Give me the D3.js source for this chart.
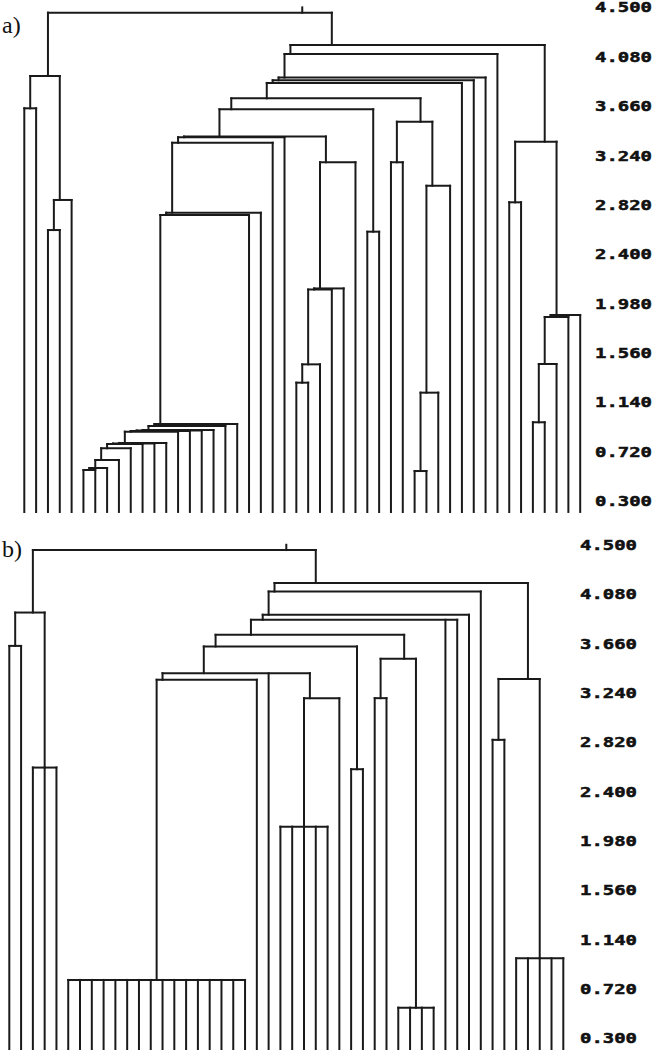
<!DOCTYPE html>
<html>
<head>
<meta charset="utf-8">
<script src="https://cdnjs.cloudflare.com/ajax/libs/d3/7.8.5/d3.min.js"></script>
<style>
body { margin: 0; background: #fff; }
.axis text { font-family: "DejaVu Sans Mono", monospace; font-weight: bold; font-size: 14px; fill: #111; stroke: #111; stroke-width: 0.5; }
.tree line { stroke: #1a1a1a; stroke-width: 2; stroke-linecap: square; }
.tag { font-family: "Liberation Serif", serif; font-size: 24px; fill: #111; }
</style>
</head>
<body>
<svg width="657" height="1050"></svg>
<script>
/* Two dendrograms (a, b) over the same 48 leaves */

// Leaves are numbered 0..47 from left to right
var leafCount = 48;

// Tick labels on the height axis
var tickValues = [4.5, 4.08, 3.66, 3.24, 2.82, 2.4, 1.98, 1.56, 1.14, 0.72, 0.3];

// Leaf lines run down to this height, the root gets a small stub above it
var leafFloor = 0.207;
var rootTick = 0.045;

// Clusters: [first leaf, last leaf, merge height]
var clustersA = [
	[0, 47, 4.456],
	[0, 4, 3.917], [0, 1, 3.642], [2, 4, 2.862], [2, 3, 2.606],
	[5, 47, 4.181],
	[41, 47, 3.358], [41, 42, 2.842], [43, 47, 1.883], [43, 46, 1.866], [43, 45, 1.466], [43, 44, 0.970],
	[5, 40, 4.104], [5, 39, 3.904], [5, 38, 3.881], [5, 37, 3.858], [5, 36, 3.727],
	[31, 36, 3.528], [31, 32, 3.183], [33, 36, 2.983], [33, 35, 1.222], [33, 34, 0.555],
	[5, 30, 3.634], [29, 30, 2.592],
	[5, 28, 3.402], [5, 22, 3.396],
	[23, 28, 3.183], [23, 27, 2.109], [23, 26, 2.100], [23, 25, 1.463], [23, 24, 1.307],
	[5, 21, 3.349], [5, 20, 2.754], [5, 19, 2.734],
	[5, 18, 0.955], [5, 17, 0.938], [5, 16, 0.904], [5, 15, 0.900], [5, 14, 0.896], [5, 13, 0.890],
	[5, 12, 0.794], [5, 11, 0.789], [5, 10, 0.785], [5, 9, 0.749], [5, 8, 0.649], [5, 7, 0.581], [5, 6, 0.564]
];

var clustersB = [
	[0, 47, 4.457],
	[0, 4, 3.925], [0, 1, 3.641], [2, 4, 2.605],
	[5, 47, 4.176],
	[41, 47, 3.360], [41, 42, 2.841], [43, 47, 0.981],
	[5, 40, 4.104], [5, 39, 3.906], [5, 38, 3.863], [5, 36, 3.735],
	[31, 36, 3.531], [31, 32, 3.196], [33, 36, 0.561],
	[5, 30, 3.636], [29, 30, 2.591],
	[5, 28, 3.409], [23, 28, 3.196], [23, 27, 2.102],
	[5, 21, 3.352], [5, 20, 0.797]
];

// Panel placement
var panels = [
	{ tag: "a)", tagY: 33, clusters: clustersA, xRange: [24.3, 580.2], yRange: [501, 7.5], axisX: 595 },
	{ tag: "b)", tagY: 557, clusters: clustersB, xRange: [9.3, 563.3], yRange: [1038.3, 545], axisX: 580 }
];

var svg = d3.select("svg");
svg.append("rect").attr("width", 657).attr("height", 1050).attr("fill", "#fff");

// Direct sub-clusters of c (single leaves fill the gaps)
function childrenOf(c, clusters) {
	var inner = clusters.filter(function (d) {
		return d[0] >= c[0] && d[1] <= c[1] && !(d[0] == c[0] && d[1] == c[1]);
	});
	var kids = [];
	var i = c[0];
	while (i <= c[1]) {
		var best = null;
		inner.forEach(function (d) {
			if (d[0] == i && (!best || d[1] > best[1])) best = d;
		});
		if (best) { kids.push(best); i = best[1] + 1; }
		else { kids.push([i, i, leafFloor]); i++; }
	}
	return kids;
}

panels.forEach(function (p) {
	var x = d3.scaleLinear().domain([0, leafCount - 1]).range(p.xRange);
	var y = d3.scaleLinear().domain([0.3, 4.5]).range(p.yRange);

	// stem position = mean of the cluster's leaves
	function cx(d) { return d3.mean(d3.range(d[0], d[1] + 1), function (i) { return x(i); }); }

	var segs = [];
	p.clusters.forEach(function (c) {
		var kids = childrenOf(c, p.clusters);
		segs.push({ x1: cx(kids[0]), x2: cx(kids[kids.length - 1]), y1: y(c[2]), y2: y(c[2]) });
		kids.forEach(function (k) {
			segs.push({ x1: cx(k), x2: cx(k), y1: y(k[2]), y2: y(c[2]) });
		});
	});
	var root = p.clusters[0];
	segs.push({ x1: cx(root), x2: cx(root), y1: y(root[2]), y2: y(root[2] + rootTick) });

	svg.append("g")
		.attr("class", "tree")
		.selectAll("line")
		.data(segs)
		.enter().append("line")
		.attr("x1", function (d) { return d.x1; })
		.attr("x2", function (d) { return d.x2; })
		.attr("y1", function (d) { return d.y1; })
		.attr("y2", function (d) { return d.y2; });

	var axis = svg.append("g")
		.attr("class", "axis")
		.attr("transform", "translate(" + p.axisX + ",0)")
		.call(d3.axisRight(y).tickValues(tickValues).tickSize(0).tickPadding(0).tickFormat(d3.format(".3f")));
	axis.select(".domain").remove();
	axis.selectAll("text")
		.attr("textLength", 57)
		.attr("lengthAdjust", "spacingAndGlyphs");

	svg.append("text")
		.attr("class", "tag")
		.attr("x", 2)
		.attr("y", p.tagY)
		.text(p.tag);
});
</script>
</body>
</html>
